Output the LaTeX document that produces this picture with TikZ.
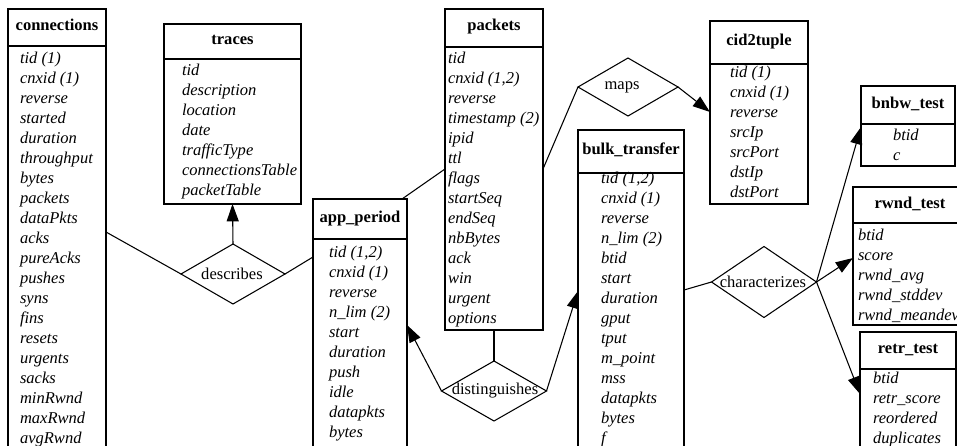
\documentclass[tikz,border=0pt]{standalone}
\usepackage{fontspec}
\setmainfont{Liberation Serif}
\usetikzlibrary{arrows.meta,shapes.geometric}

% one drawing unit = one pixel of a 957 x 446 canvas, y pointing down
\tikzset{
  erline/.style={line width=0.8pt},
  hdr/.style={draw, erline, rectangle, inner sep=0pt, outer sep=0pt,
    anchor=north west, font=\fontsize{12.4}{15}\selectfont\bfseries,
    text height=0.7em, text depth=0.25em},
  bodybox/.style={draw, erline, rectangle, inner sep=0pt, outer sep=0pt,
    anchor=north west},
  attr/.style={inner sep=0pt, outer sep=0pt, anchor=mid west,
    font=\fontsize{12.4}{15}\selectfont\itshape},
  rel/.style={draw, erline, diamond, inner sep=0pt, outer sep=0pt},
  rellabel/.style={inner sep=0pt, font=\fontsize{12.4}{15}\selectfont},
  plainedge/.style={erline},
  arrowedge/.style={erline, -{Triangle[length=13pt,width=9pt]}},
}

% entity box: name, title, left, right, top, header bottom, body bottom
\newcommand\erbox[7]{%
  \node[hdr, minimum width={(#4-#3)*0.75}, minimum height={(#6-#5)*0.75}]
    (#1h) at (#3,#5) {#2};
  \node[bodybox, minimum width={(#4-#3)*0.75}, minimum height={(#7-#6)*0.75}]
    (#1) at (#3,#6) {};
}
% attribute rows: entity name, left x, y of first row, list of attributes
\newcommand\errows[4]{%
  \foreach \a [count=\i] in {#4} {
    \node[attr] (#1-\i) at (#2, {#3+20*(\i-1)}) {\a};
  }
}

\begin{document}
\begin{tikzpicture}[x=0.75pt, y=-0.75pt]
\useasboundingbox (0,0) rectangle (957,446);
\fill[white] (0,0) rectangle (957,446);
\clip (0,0) rectangle (957,446);

% entities
\erbox{conn}{connections}{8}{106}{9}{46}{470}
\errows{conn}{20}{60}{{tid (1)}, {cnxid (1)}, reverse, started, duration,
  throughput, bytes, packets, dataPkts, acks, pureAcks, pushes, syns, fins,
  resets, urgents, sacks, minRwnd, maxRwnd, avgRwnd}

\erbox{traces}{traces}{164}{301}{24}{59}{204}
\errows{traces}{182}{72}{tid, description, location, date, trafficType,
  connectionsTable, packetTable}

\erbox{app}{app\_period}{313}{407}{199}{239}{470}
\errows{app}{329}{254}{{tid (1,2)}, {cnxid (1)}, reverse, {n\_lim (2)}, start,
  duration, push, idle, datapkts, bytes}

\erbox{packets}{packets}{445}{543}{9}{47}{330}
\errows{packets}{448}{60}{tid, {cnxid (1,2)}, reverse, {timestamp (2)}, ipid,
  ttl, flags, startSeq, endSeq, nbBytes, ack, win, urgent, options}

\erbox{cid}{cid2tuple}{710}{808}{21}{64}{204}
\errows{cid}{730}{74.5}{{tid (1)}, {cnxid (1)}, reverse, srcIp, srcPort,
  dstIp, dstPort}

\erbox{bulk}{bulk\_transfer}{578}{684}{130}{173}{470}
\errows{bulk}{601}{180}{{tid (1,2)}, {cnxid (1)}, reverse, {n\_lim (2)}, btid,
  start, duration, gput, tput, m\_point, mss, datapkts, bytes, f}

\erbox{bnbw}{bnbw\_test}{861}{955}{86}{124}{166}
\errows{bnbw}{893}{137}{btid, c}

\erbox{rwnd}{rwnd\_test}{853}{967}{187}{223}{325}
\errows{rwnd}{858}{237}{btid, score, rwnd\_avg, rwnd\_stddev, rwnd\_meandev}

\erbox{retr}{retr\_test}{860}{956}{332}{369}{470}
\errows{retr}{873}{380}{btid, retr\_score, reordered, duplicates}

% relationships
\node[rel, minimum width=78pt, minimum height=45pt] (describes) at (233,274) {};
\node[rellabel] (describesL) at (232,274) {describes};

\node[rel, minimum width=78.75pt, minimum height=45pt] (distinguishes) at (494,391) {};
\node[rellabel] (distinguishesL) at (495,391) {distinguishes};

\node[rel, minimum width=75pt, minimum height=43.5pt] (maps) at (628,87) {};
\node[rellabel] (mapsL) at (622,87) {maps};

\node[rel, minimum width=78.75pt, minimum height=53.25pt] (characterizes) at (764,282) {};
\node[rellabel] (characterizesL) at (763,282) {characterizes};

% connectors
\draw[plainedge] (conn.east |- 0,232) -- (describes.west);
\draw[plainedge] (describes.east) -- (app.west |- 0,257);
\draw[arrowedge] (describes.north) -- (traces.south);

\draw[plainedge] (apph.north -| 402,0) -- (packets.west |- 0,169);
\draw[plainedge] (packets.south) -- (distinguishes.north);
\draw[arrowedge] (distinguishes.west) -- (app.east |- 0,325);
\draw[arrowedge] (distinguishes.east) -- (bulk.west |- 0,291);

\draw[plainedge] (packets.east |- 0,169) -- (maps.west);
\draw[arrowedge] (maps.east) -- (cid.west |- 0,112);

\draw[plainedge] (bulk.east |- 0,290) -- (characterizes.west);
\draw[arrowedge] (characterizes.east) -- (bnbw.west |- 0,127);
\draw[arrowedge] (characterizes.east) -- (rwnd.west |- 0,258);
\draw[arrowedge] (characterizes.east) -- (retr.west |- 0,394);
\end{tikzpicture}
\end{document}
